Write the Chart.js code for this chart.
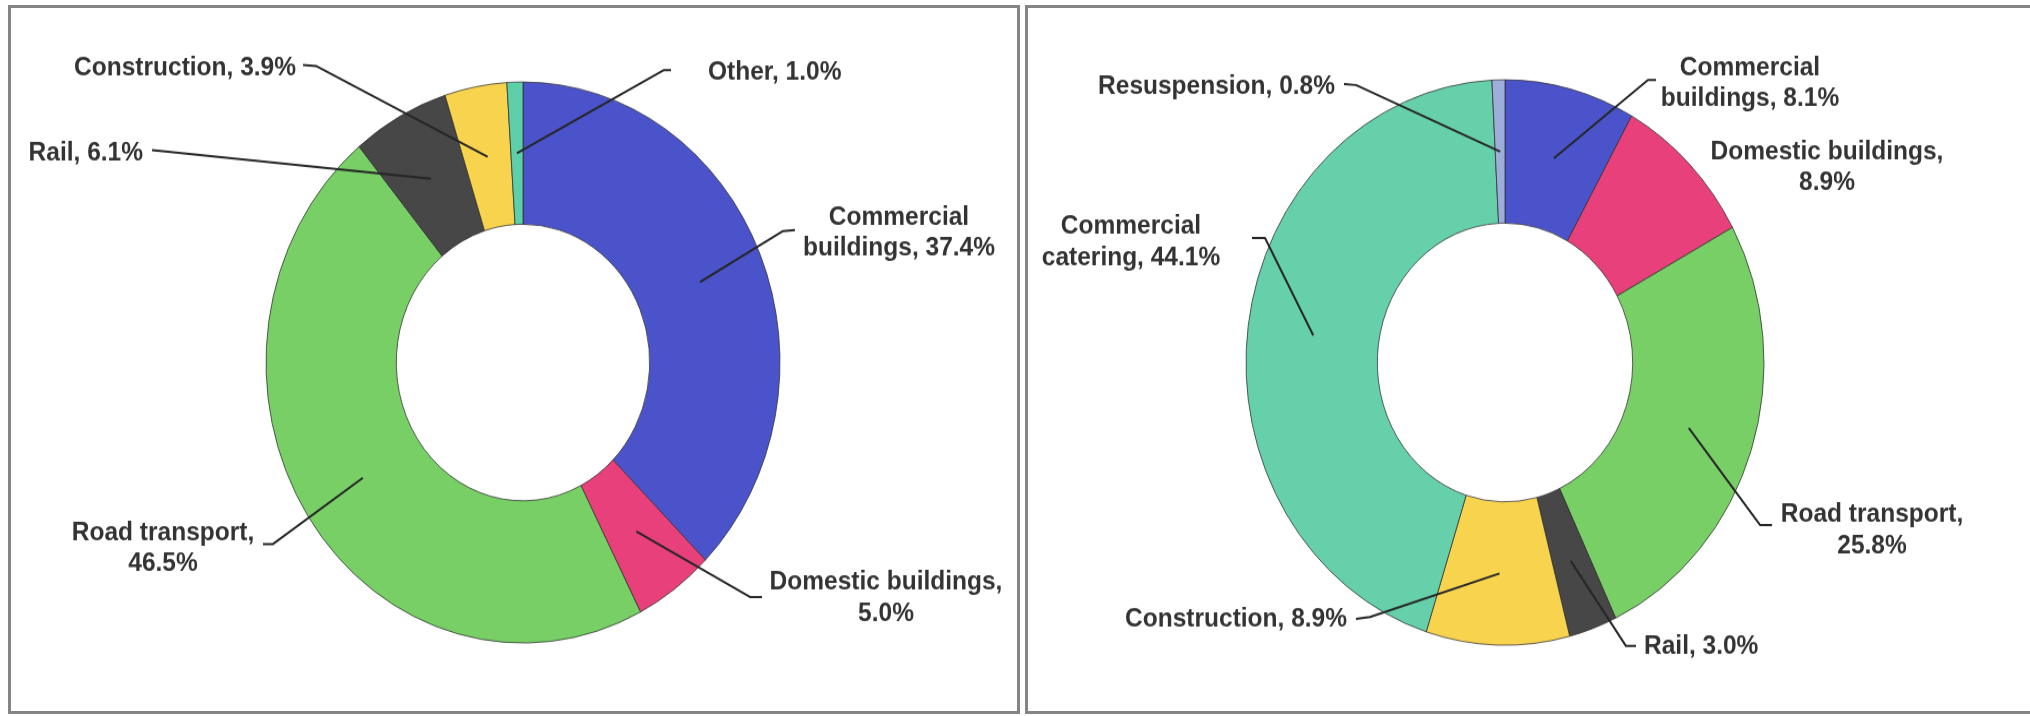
<!DOCTYPE html>
<html lang="en">
<head>
    <meta charset="UTF-8" />
    <title>Emission sources</title>
    <script src="https://cdn.jsdelivr.net/npm/chart.js"></script>
    <style>
        html, body { margin: 0; padding: 0; background: #fff; }
        body { width: 2030px; height: 716px; position: relative; overflow: hidden; }
        .panel { position: absolute; top: 5px; height: 709px; border: 3px solid #858585; box-sizing: border-box; }
        #panelLeft { left: 8px; width: 1012px; }
        #panelRight { left: 1025px; width: 1020px; }
        canvas { position: absolute; top: 0; transform-origin: 0 0; }
    </style>
</head>
<body>
    <div class="panel" id="panelLeft"></div>
    <div class="panel" id="panelRight"></div>
    <canvas id="chartLeft"></canvas>
    <canvas id="chartRight"></canvas>

    <script>
        // left chart
        const leftCategories = ['Commercial buildings', 'Domestic buildings', 'Road transport', 'Rail', 'Construction', 'Other'];
        const leftValues = [37.4, 5.0, 46.5, 6.1, 3.9, 1.0];
        const leftColors = ['#4B53CB', '#E8407B', '#77CF66', '#474747', '#F8D44E', '#5DCFA9'];

        // right chart
        const rightCategories = ['Commercial buildings', 'Domestic buildings', 'Road transport', 'Rail', 'Construction', 'Commercial catering', 'Resuspension'];
        const rightValues = [8.1, 8.9, 25.8, 3.0, 8.9, 44.1, 0.8];
        const rightColors = ['#4B53CB', '#E8407B', '#77CF66', '#474747', '#F8D44E', '#66D0AB', '#9DAEDB'];

        // the picture is stretched vertically, so draw flat and scale the canvas
        const STRETCH = 1.0915;
        const H = Math.round(716 / STRETCH);

        // label placement, page pixels relative to each canvas: x, y, align, words on first line, leader start + elbow
        const leftLabels = [
            { x: 899, y: 233, align: 'center', brk: 1, start: [795, 230], elbow: [783, 231] },
            { x: 886, y: 598, align: 'center', brk: 2, start: [762, 597], elbow: [750, 597] },
            { x: 163, y: 548, align: 'center', brk: 2, start: [263, 544], elbow: [273, 544] },
            { x: 143, y: 153, align: 'right', brk: 0, start: [152, 150], elbow: [152, 150] },
            { x: 296, y: 68, align: 'right', brk: 0, start: [303, 65], elbow: [316, 66] },
            { x: 708, y: 72, align: 'left', brk: 0, start: [671, 70], elbow: [664, 70] }
        ];
        const rightLabels = [
            { x: 730, y: 83, align: 'center', brk: 1, start: [636, 80], elbow: [628, 80] },
            { x: 807, y: 167, align: 'center', brk: 2, start: null },
            { x: 852, y: 530, align: 'center', brk: 2, start: [752, 525], elbow: [740, 525] },
            { x: 624, y: 646, align: 'left', brk: 0, start: [616, 646], elbow: [606, 646] },
            { x: 327, y: 619, align: 'right', brk: 0, start: [336, 619], elbow: [350, 617] },
            { x: 111, y: 242, align: 'center', brk: 1, start: [232, 238], elbow: [245, 238] },
            { x: 315, y: 87, align: 'right', brk: 0, start: [324, 84], elbow: [336, 85] }
        ];

        const leaderLabels = {
            id: 'leaderLabels',
            afterDatasetsDraw(chart, args, opts) {
                const ctx = chart.ctx;
                const arcs = chart.getDatasetMeta(0).data;
                const cats = chart.data.labels;
                const vals = chart.data.datasets[0].data;
                ctx.save();
                ctx.font = 'bold 24.5px "Liberation Sans", Arial, sans-serif';
                ctx.textBaseline = 'middle';
                ctx.fillStyle = '#333';
                ctx.strokeStyle = '#262626';
                ctx.lineWidth = 2;
                ctx.lineJoin = 'round';
                opts.items.forEach((it, i) => {
                    const words = (cats[i] + ', ' + vals[i].toFixed(1) + '%').split(' ');
                    const lines = it.brk ? [words.slice(0, it.brk).join(' '), words.slice(it.brk).join(' ')] : [words.join(' ')];
                    const y0 = it.y / STRETCH;
                    const gap = 31 / STRETCH;
                    ctx.textAlign = it.align;
                    lines.forEach((t, k) => {
                        ctx.fillText(t, it.x, y0 + (k - (lines.length - 1) / 2) * gap);
                    });
                    if (it.start) {
                        const p = arcs[i].getCenterPoint();
                        ctx.beginPath();
                        ctx.moveTo(it.start[0], it.start[1] / STRETCH);
                        ctx.lineTo(it.elbow[0], it.elbow[1] / STRETCH);
                        ctx.lineTo(p.x, p.y);
                        ctx.stroke();
                    }
                });
                ctx.restore();
            }
        };

        function makeChart(id, width, left, cats, vals, colors, radius, labels) {
            const canvas = document.getElementById(id);
            canvas.width = width;
            canvas.height = H;
            canvas.style.left = left + 'px';
            canvas.style.width = width + 'px';
            canvas.style.height = H + 'px';
            canvas.style.transform = 'scaleY(' + STRETCH + ')';
            // donut centre in canvas space
            const cx = radius.cx, cy = 362.5 / STRETCH;
            return new Chart(canvas.getContext('2d'), {
                type: 'doughnut',
                data: {
                    labels: cats,
                    datasets: [{
                        data: vals,
                        backgroundColor: colors,
                        borderColor: 'rgba(45,45,45,0.75)',
                        borderWidth: 1
                    }]
                },
                options: {
                    responsive: false,
                    animation: false,
                    events: [],
                    radius: radius.r,
                    cutout: '49.3%',
                    layout: {
                        padding: {
                            left: cx - radius.r,
                            right: width - cx - radius.r,
                            top: cy - radius.r,
                            bottom: H - cy - radius.r
                        }
                    },
                    plugins: {
                        legend: { display: false },
                        tooltip: { enabled: false },
                        leaderLabels: { items: labels }
                    }
                },
                plugins: [leaderLabels]
            });
        }

        makeChart('chartLeft', 1020, 0, leftCategories, leftValues, leftColors, { cx: 523, r: 257 }, leftLabels);
        makeChart('chartRight', 1010, 1020, rightCategories, rightValues, rightColors, { cx: 485, r: 259 }, rightLabels);
    </script>
</body>
</html>
